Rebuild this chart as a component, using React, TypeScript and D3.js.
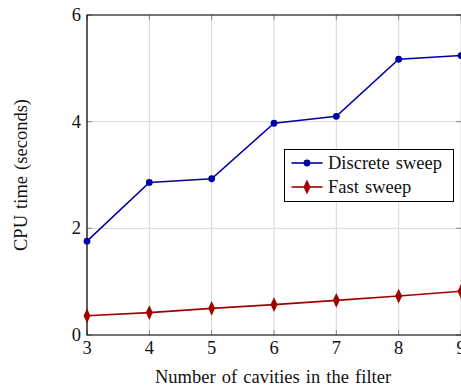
import React from "react";
import * as d3 from "d3";

const cavities = [3, 4, 5, 6, 7, 8, 9];
const discreteSweep = [1.76, 2.86, 2.93, 3.97, 4.1, 5.17, 5.24];
const fastSweep = [0.36, 0.42, 0.5, 0.57, 0.65, 0.73, 0.82];
const xTicks = [3, 4, 5, 6, 7, 8, 9];
const yTicks = [0, 2, 4, 6];

const W = 461;
const H = 389;
const left = 87;
const top = 15;
const right = 461;
const bottom = 335;

const BLUE = "#0000a6";
const RED = "#a30000";
const FONT = "'Liberation Serif', 'Times New Roman', serif";
const FS = 18.5;

export default function App() {
  const x = d3.scaleLinear().domain([3, 9]).range([left, right]);
  const y = d3.scaleLinear().domain([0, 6]).range([bottom, top]);

  const line = d3
    .line<number>()
    .x((_, i) => x(cavities[i]))
    .y((d) => y(d));

  const diamond = d3.symbol().type(d3.symbolDiamond).size(52)();

  return (
    <svg
      width={W}
      height={H}
      style={{ position: "absolute", left: 0, top: 0, display: "block" }}
      fontFamily={FONT}
      fill="#111"
    >
      <rect width={W} height={H} fill="#fff" />
      {/* grid */}
      {xTicks.map((t) => (
        <line key={"gx" + t} x1={x(t)} x2={x(t)} y1={top} y2={bottom} stroke="#d6d6d6" strokeWidth={1} />
      ))}
      {yTicks.map((t) => (
        <line key={"gy" + t} x1={left} x2={right} y1={y(t)} y2={y(t)} stroke="#d6d6d6" strokeWidth={1} />
      ))}
      {/* tick marks */}
      {xTicks.map((t) => (
        <g key={"tx" + t} stroke="#8a8a8a" strokeWidth={1}>
          <line x1={x(t)} x2={x(t)} y1={bottom} y2={bottom - 5} />
          <line x1={x(t)} x2={x(t)} y1={top} y2={top + 5} />
        </g>
      ))}
      {yTicks.map((t) => (
        <g key={"ty" + t} stroke="#8a8a8a" strokeWidth={1}>
          <line x1={left} x2={left + 5} y1={y(t)} y2={y(t)} />
          <line x1={right} x2={right - 5} y1={y(t)} y2={y(t)} />
        </g>
      ))}
      {/* axes frame */}
      <path d={`M${right},${top}H${left}V${bottom}H${right}`} fill="none" stroke="#000" strokeWidth={1.2} />

      {/* series */}
      <path d={line(discreteSweep) || ""} fill="none" stroke={BLUE} strokeWidth={1.6} />
      {discreteSweep.map((v, i) => (
        <circle key={"d" + i} cx={x(cavities[i])} cy={y(v)} r={3.4} fill={BLUE} />
      ))}
      <path d={line(fastSweep) || ""} fill="none" stroke={RED} strokeWidth={1.6} />
      {fastSweep.map((v, i) => (
        <path key={"f" + i} d={diamond || ""} transform={`translate(${x(cavities[i])},${y(v)}) scale(0.9,1.1)`} fill={RED} />
      ))}

      {/* tick labels */}
      {xTicks.map((t) => (
        <text key={"lx" + t} x={x(t)} y={bottom + 19} textAnchor="middle" fontSize={FS}>
          {t}
        </text>
      ))}
      {yTicks.map((t) => (
        <text key={"ly" + t} x={left - 6} y={y(t) + 6} textAnchor="end" fontSize={FS}>
          {t}
        </text>
      ))}

      {/* axis titles */}
      <text x={273} y={383} textAnchor="middle" fontSize={FS} wordSpacing={1.5}>
        Number of cavities in the filter
      </text>
      <text transform="translate(27,175) rotate(-90)" textAnchor="middle" fontSize={FS} wordSpacing={1.5}>
        CPU time (seconds)
      </text>

      {/* legend */}
      <g>
        <rect x={284.5} y={149.5} width={169} height={52} fill="#fff" stroke="#000" strokeWidth={1} />
        <line x1={291.5} x2={322.5} y1={163} y2={163} stroke={BLUE} strokeWidth={1.6} />
        <circle cx={307} cy={163} r={3.4} fill={BLUE} />
        <text x={328} y={169} fontSize={FS} wordSpacing={1.5}>
          Discrete sweep
        </text>
        <line x1={291.5} x2={322.5} y1={187} y2={187} stroke={RED} strokeWidth={1.6} />
        <path d={diamond || ""} transform="translate(307,187) scale(0.9,1.1)" fill={RED} />
        <text x={328} y={193} fontSize={FS} wordSpacing={1.5}>
          Fast sweep
        </text>
      </g>
    </svg>
  );
}
